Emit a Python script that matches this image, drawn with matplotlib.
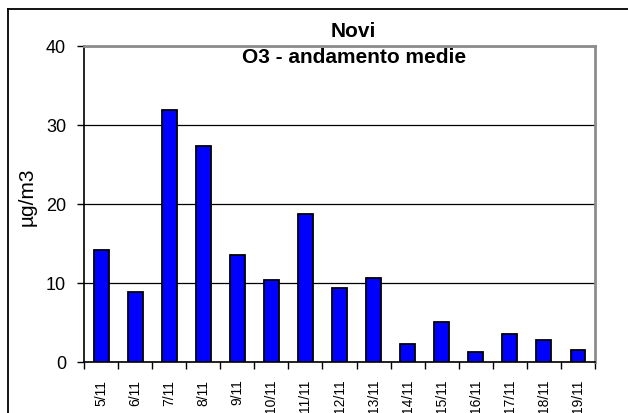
import matplotlib
matplotlib.use('Agg')
import matplotlib.pyplot as plt
from matplotlib.lines import Line2D
import numpy as np

# data
days = ['5/11', '6/11', '7/11', '8/11', '9/11', '10/11', '11/11', '12/11',
        '13/11', '14/11', '15/11', '16/11', '17/11', '18/11', '19/11']
o3_mean = [14.2, 8.9, 31.9, 27.4, 13.5, 10.4, 18.7, 9.4,
           10.6, 2.3, 5.1, 1.3, 3.5, 2.8, 1.55]

plt.rcParams['font.family'] = ['Liberation Sans', 'DejaVu Sans']

fig = plt.figure(figsize=(6.28, 4.14), dpi=100)
ax = fig.add_axes([0.1338, 0.1232, 0.8137, 0.7633])

x = np.arange(len(days))
ax.bar(x, o3_mean, width=0.44, color='#0000FF', edgecolor='black',
       linewidth=1.3, zorder=3)

# axes limits and grid
ax.set_xlim(-0.5, len(days) - 0.5)
ax.set_ylim(0, 40)
ax.set_yticks([0, 10, 20, 30, 40])
ax.yaxis.grid(True, color='black', linewidth=0.9, zorder=1)
ax.tick_params(axis='y', direction='out', length=5, width=1, pad=8,
               labelsize=13)

# tick marks between categories, labels centred under bars
ax.set_xticks(np.arange(-0.5, len(days), 1.0))
ax.set_xticklabels([])
ax.tick_params(axis='x', which='major', direction='out', length=5, width=1)
ax.set_xticks(x, minor=True)
ax.set_xticklabels(days, minor=True, rotation=90, fontsize=10)
ax.tick_params(axis='x', which='minor', length=0, pad=12)

# spines
for side in ['top', 'right']:
    ax.spines[side].set_color('#8c8c8c')
    ax.spines[side].set_linewidth(2)
for side in ['left', 'bottom']:
    ax.spines[side].set_color('black')
    ax.spines[side].set_linewidth(1.2)

ax.set_ylabel('µg/m3', fontsize=15)
ax.yaxis.label.set_va('center')
ax.yaxis.set_label_coords(-0.1115, 0.525)

# titles
fig.text(0.562, 0.925, 'Novi', ha='center', va='center',
         fontsize=15, fontweight='bold')
ax.text(0.528, 0.966, 'O3 - andamento medie', transform=ax.transAxes,
        ha='center', va='center', fontsize=15, fontweight='bold')

# outer frame (cut off on right and bottom)
fig.add_artist(Line2D([0.0127, 1.0], [0.977, 0.977], color='black',
                      linewidth=1.3, transform=fig.transFigure))
fig.add_artist(Line2D([0.0127, 0.0127], [0.0, 0.977], color='black',
                      linewidth=1.3, transform=fig.transFigure))

fig.savefig('out.png', dpi=100)
